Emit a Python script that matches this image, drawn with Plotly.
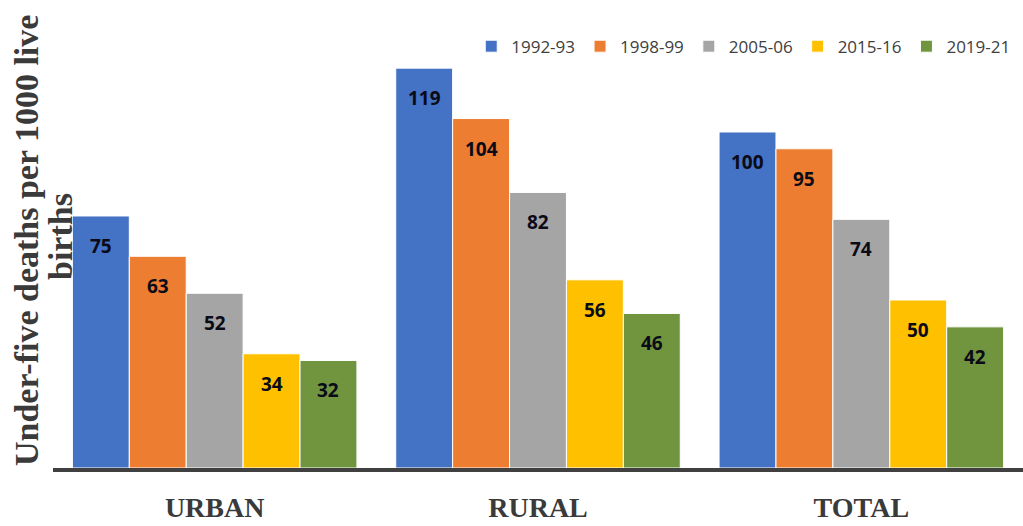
import plotly.graph_objects as go

categories = ["URBAN", "RURAL", "TOTAL"]
series_names = ["1992-93", "1998-99", "2005-06", "2015-16", "2019-21"]
values_1992 = [75, 119, 100]
values_1998 = [63, 104, 95]
values_2005 = [52, 82, 74]
values_2015 = [34, 56, 50]
values_2019 = [32, 46, 42]
colors = ["#4472C4", "#ED7D31", "#A5A5A5", "#FFC000", "#70953E"]
ytitle_lines = ["Under-five deaths per 1000 live", "births"]

all_values = [values_1992, values_1998, values_2005, values_2015, values_2019]

W, H = 1023, 526
ML, MR, MT, MB = 53, 0, 10, 58
BARGAP = 0.12
XRANGE = [-0.5, 2.5]
px_per_cat = (W - ML - MR) / (XRANGE[1] - XRANGE[0])
bar_px = px_per_cat * (1 - BARGAP) / len(series_names)

fig = go.Figure()
for i, (name, vals, col) in enumerate(zip(series_names, all_values, colors)):
    fig.add_trace(go.Bar(
        x=categories, y=vals, name=name,
        marker=dict(color=col, line=dict(color="white", width=1)),
    ))
    for cat, v in zip(categories, vals):
        fig.add_annotation(
            x=cat, y=v, xref="x", yref="y", text=str(v), showarrow=False,
            xanchor="center", yanchor="middle",
            xshift=(i - (len(series_names) - 1) / 2) * bar_px, yshift=-30,
            font=dict(family="Open Sans", size=19, color="#0b0b18", weight="bold"),
        )

for line, xs, ys in zip(ytitle_lines, [-27, 7], [-2, 2]):
    fig.add_annotation(
        text=line, xref="paper", yref="paper", x=0, y=0.5,
        xshift=xs, yshift=ys,
        xanchor="center", yanchor="middle", textangle=-90, showarrow=False,
        font=dict(family="Liberation Serif", size=34, color="#3a3a3a", weight="bold"),
    )

fig.update_layout(
    width=W, height=H,
    margin=dict(l=ML, r=MR, t=MT, b=MB),
    paper_bgcolor="white", plot_bgcolor="white",
    barmode="group", bargap=BARGAP, bargroupgap=0.0,
    showlegend=True,
    legend=dict(orientation="h", x=0.992, xanchor="right", y=0.92, yanchor="middle",
                font=dict(family="Open Sans", size=17, color="#404040"),
                bgcolor="rgba(0,0,0,0)", itemwidth=30, traceorder="normal"),
    xaxis=dict(range=XRANGE, showline=True, linecolor="#404040", linewidth=4,
               ticks="", ticklabelstandoff=11, automargin=False,
               tickfont=dict(family="Liberation Serif", size=28, color="#3a3a3a", weight="bold"),
               showgrid=False, zeroline=False),
    yaxis=dict(range=[0, 136.3], showticklabels=False, showgrid=False, zeroline=False,
               showline=False, ticks="", automargin=False),
)

fig.write_html("out.html")
